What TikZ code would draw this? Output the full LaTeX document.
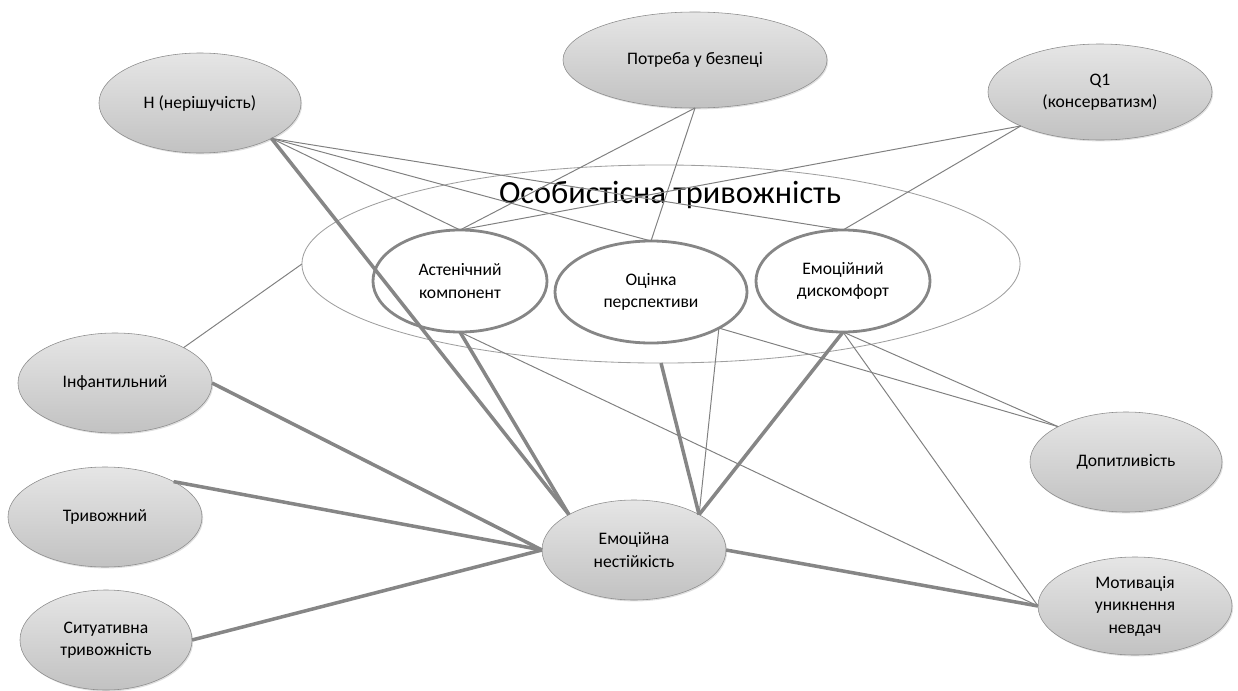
\documentclass[tikz,border=0pt]{standalone}
\usepackage{fontspec}
\setmainfont{Carlito}
\usetikzlibrary{shapes.geometric, shadows}

\begin{document}
\begin{tikzpicture}[
    x=0.025cm, y=-0.025cm,
    factor/.style={ellipse, draw=gray!90, top color=gray!20, middle color=gray!28, bottom color=gray!48,
        inner sep=0pt, outer sep=0pt, align=center,
        font=\fontsize{12.5}{16}\selectfont,
        drop shadow={opacity=0.25, shadow xshift=0.8pt, shadow yshift=-1pt}},
    comp/.style={ellipse, draw=gray!95, line width=2pt, fill=white,
        inner sep=0pt, outer sep=0pt, align=center,
        font=\fontsize{12.5}{16}\selectfont},
    weak/.style={draw=gray, line width=0.7pt},
    strong/.style={draw=gray!95, line width=2.5pt}
]
    \useasboundingbox (0,0) rectangle (1238,691);

    \node[factor, minimum width=5.05cm, minimum height=2.5cm] (H) at (200,103) {Н (нерішучість)};
    \node[factor, minimum width=6.6cm, minimum height=2.4cm] (need) at (695,60) {Потреба у безпеці};
    \node[factor, minimum width=5.6cm, minimum height=2.4cm] (Q1) at (1100,92) {Q1\\(консерватизм)};

    \node[ellipse, draw=gray!75, line width=0.6pt, inner sep=0pt, outer sep=0pt,
        minimum width=17.95cm, minimum height=4.95cm] (pers) at (661,264) {};
    \node[font=\fontsize{23}{28}\selectfont] (title) at (670,195) {Особистісна тривожність};
    \node[comp, minimum width=4.35cm, minimum height=2.55cm] (asth) at (460,281) {Астенічний\\компонент};
    \node[comp, minimum width=4.8cm, minimum height=2.55cm] (persp) at (651,292) {Оцінка\\перспективи};
    \node[comp, minimum width=4.35cm, minimum height=2.55cm] (disc) at (843,281) {Емоційний\\дискомфорт};

    \node[factor, minimum width=4.85cm, minimum height=2.5cm] (infant) at (115,383) {Інфантильний};
    \node[factor, minimum width=4.85cm, minimum height=2.5cm] (anx) at (105,517) {Тривожний};
    \node[factor, minimum width=4.3cm, minimum height=2.5cm] (sit) at (106,640) {Ситуативна\\тривожність};
    \node[factor, minimum width=4.6cm, minimum height=2.5cm] (instab) at (634,550) {Емоційна\\нестійкість};
    \node[factor, minimum width=4.8cm, minimum height=2.5cm] (curious) at (1126,462) {Допитливість};
    \node[factor, minimum width=4.85cm, minimum height=2.45cm] (motiv) at (1135,606) {Мотивація\\уникнення\\невдач};

    % слабкі зв'язки
    \draw[weak] (H.south east) -- (asth.north);
    \draw[weak] (H.south east) -- (persp.north);
    \draw[weak] (H.south east) -- (disc.north);
    \draw[weak] (need.south) -- (asth.north);
    \draw[weak] (need.south) -- (persp.north);
    \draw[weak] (Q1.south west) -- (asth.north);
    \draw[weak] (Q1.south west) -- (disc.north);
    \draw[weak] (infant.north east) -- (pers.west);
    \draw[weak] (persp.south east) -- (curious.north west);
    \draw[weak] (persp.south east) -- (instab.north east);
    \draw[weak] (disc.south) -- (curious.north west);
    \draw[weak] (disc.south) -- (motiv.west);
    \draw[weak] (asth.south) -- (motiv.west);

    % сильні зв'язки
    \draw[strong] (H.south east) -- (instab.north west);
    \draw[strong] (asth.south) -- (instab.north west);
    \draw[strong] (infant.east) -- (instab.west);
    \draw[strong] (anx.north east) -- (instab.west);
    \draw[strong] (sit.east) -- (instab.west);
    \draw[strong] (pers.south) -- (instab.north east);
    \draw[strong] (disc.south) -- (instab.north east);
    \draw[strong] (instab.east) -- (motiv.west);
\end{tikzpicture}
\end{document}
